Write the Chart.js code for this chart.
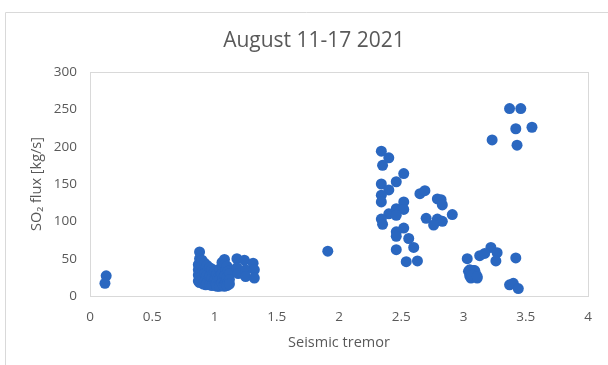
<!DOCTYPE html>
<html>
<head>
<meta charset="utf-8">
<script src="https://cdn.jsdelivr.net/npm/chart.js@4"></script>
<style>
  html, body { margin: 0; padding: 0; background: #ffffff; }
  #wrap { position: relative; width: 608px; height: 365px; }
</style>
</head>
<body>
<div id="wrap"><canvas id="c" width="608" height="365"></canvas></div>
<script>
// Seismic tremor (x) versus SO2 flux in kg/s (y), one entry per observation
const chartTitle = 'August 11-17 2021';
const xTitle = 'Seismic tremor';
const yTitle = 'SO\u2082 flux [kg/s]';
const xTicks = [0, 0.5, 1, 1.5, 2, 2.5, 3, 3.5, 4];
const yTicks = [0, 50, 100, 150, 200, 250, 300];

const tremor = [
  // low-tremor pair
  0.13, 0.12,
  // dense group around tremor 1
  0.87, 0.87, 0.87, 0.87,
  0.88, 0.88, 0.89, 0.88, 0.89, 0.88, 0.88,
  0.90, 0.90, 0.91, 0.90, 0.90, 0.91,
  0.92, 0.93, 0.92, 0.93, 0.92, 0.93,
  0.94, 0.95, 0.94, 0.95, 0.94,
  0.96, 0.97, 0.96, 0.97, 0.96,
  0.98, 0.99, 0.98, 0.99, 0.98,
  1.00, 1.01, 1.00, 1.01,
  1.02, 1.03, 1.02, 1.03, 1.02,
  1.04, 1.05, 1.04, 1.05, 1.04,
  1.06, 1.07, 1.06, 1.07, 1.06, 1.07,
  1.08, 1.08, 1.09, 1.08, 1.09, 1.08, 1.08,
  1.10, 1.11, 1.10, 1.11, 1.10,
  1.12, 1.12, 1.12,
  // small group 1.2 - 1.3
  1.18, 1.18, 1.19, 1.24, 1.25, 1.25, 1.31, 1.32, 1.32,
  // isolated
  1.91,
  // spread group 2.3 - 2.9
  2.34, 2.40, 2.35, 2.52, 2.46, 2.34, 2.40, 2.34, 2.34, 2.52,
  2.46, 2.52, 2.40, 2.46, 2.34, 2.35, 2.65, 2.69, 2.79, 2.82,
  2.83, 2.91, 2.70, 2.79, 2.83, 2.76, 2.52, 2.46, 2.46, 2.56,
  2.60, 2.46, 2.54, 2.63,
  // high group 3.2 - 3.6
  3.37, 3.46, 3.42, 3.55, 3.23, 3.43,
  // group around tremor 3.0 - 3.4
  3.03, 3.22, 3.27, 3.13, 3.17, 3.26, 3.42,
  3.04, 3.05, 3.06, 3.07, 3.08, 3.09, 3.10, 3.11, 3.05, 3.09, 3.07, 3.11,
  3.37, 3.40, 3.44
];

const so2Flux = [
  27, 17,
  20, 28, 35, 42,
  59, 50, 45, 38, 30, 24, 18,
  48, 40, 33, 27, 22, 16,
  44, 37, 30, 25, 19, 15,
  41, 35, 28, 22, 17,
  38, 32, 26, 20, 15,
  36, 30, 24, 18, 14,
  33, 27, 21, 16,
  30, 25, 19, 14, 13,
  36, 28, 22, 16, 13,
  45, 38, 30, 24, 18, 14,
  49, 42, 35, 27, 20, 15, 13,
  40, 33, 25, 18, 14,
  30, 22, 16,
  50, 38, 30, 48, 35, 26, 44, 35, 24,
  60,
  194, 185, 175, 164, 153, 150, 142, 135, 126, 126,
  117, 116, 110, 108, 103, 96, 137, 141, 130, 129,
  122, 109, 104, 103, 100, 95, 91, 86, 80, 77,
  65, 62, 46, 47,
  251, 251, 224, 226, 209, 202,
  50, 65, 58, 54, 57, 47, 51,
  33, 27, 24, 31, 34, 26, 29, 24, 35, 34, 28, 26,
  15, 17, 10
];

const points = tremor.map((x, i) => ({ x: x, y: so2Flux[i] }));

const textColor = '#595959';
const frameColor = '#d9d9d9';
const fontFamily = "'Open Sans', 'Liberation Sans', sans-serif";

// Outer frame, plot-area box and the chart heading
const decorations = {
  id: 'decorations',
  beforeDraw(chart) {
    const ctx = chart.ctx;
    const a = chart.chartArea;
    ctx.save();
    ctx.strokeStyle = frameColor;
    ctx.lineWidth = 1;
    ctx.beginPath();
    ctx.moveTo(5.5, chart.height);
    ctx.lineTo(5.5, 12.5);
    ctx.lineTo(chart.width, 12.5);
    ctx.stroke();
    ctx.strokeRect(Math.round(a.left) + 0.5, Math.round(a.top) + 0.5,
                   Math.round(a.right - a.left), Math.round(a.bottom - a.top));
    ctx.fillStyle = textColor;
    ctx.font = "21px " + fontFamily;
    ctx.textAlign = 'center';
    ctx.textBaseline = 'middle';
    ctx.fillText(chartTitle, 314, 41);
    ctx.restore();
  }
};

new Chart(document.getElementById('c'), {
  type: 'scatter',
  data: {
    datasets: [{
      label: yTitle,
      data: points,
      backgroundColor: '#2a67c0',
      borderColor: '#2a67c0',
      borderWidth: 0,
      pointRadius: 5.5,
      pointHoverRadius: 5.5
    }]
  },
  options: {
    responsive: false,
    animation: false,
    layout: { padding: { left: 0, right: 20, top: 72, bottom: 0 } },
    plugins: {
      legend: { display: false },
      title: { display: false },
      tooltip: { enabled: false }
    },
    scales: {
      x: {
        type: 'linear',
        min: 0, max: 4,
        afterFit(scale) { scale.height = 69; },
        afterBuildTicks(scale) { scale.ticks = xTicks.map(v => ({ value: v })); },
        grid: { display: false, drawTicks: false },
        border: { display: false },
        ticks: { color: textColor, font: { family: fontFamily, size: 13.5 }, padding: 13, maxRotation: 0,
                 callback: v => String(v) },
        title: { display: true, text: xTitle, color: textColor,
                 font: { family: fontFamily, size: 14.5 }, padding: { top: 0, bottom: 13 } }
      },
      y: {
        type: 'linear',
        min: 0, max: 300,
        afterFit(scale) { scale.width = 90; },
        afterBuildTicks(scale) { scale.ticks = yTicks.map(v => ({ value: v })); },
        grid: { display: false, drawTicks: false },
        border: { display: false },
        ticks: { color: textColor, font: { family: fontFamily, size: 13.5 }, padding: 13,
                 callback: v => String(v) },
        title: { display: true, text: yTitle, color: textColor,
                 font: { family: fontFamily, size: 14.5 }, padding: { top: 28, bottom: 0 } }
      }
    }
  },
  plugins: [decorations]
});
</script>
</body>
</html>
